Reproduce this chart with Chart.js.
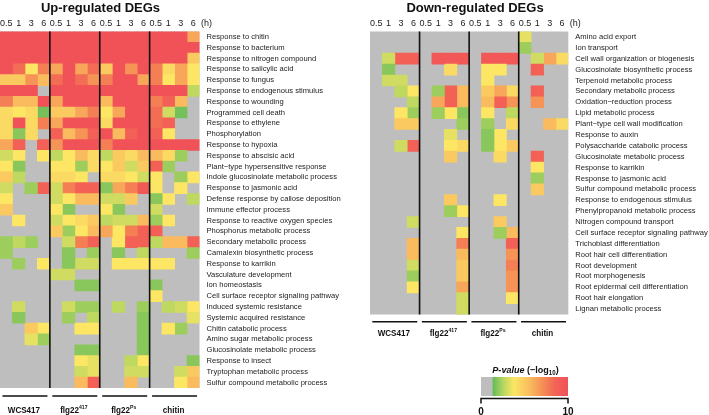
<!DOCTYPE html>
<html>
<head>
<meta charset="utf-8">
<script src="https://cdn.jsdelivr.net/npm/chart.js@4.4.0/dist/chart.umd.min.js"></script>
<style>
  html, body { margin: 0; padding: 0; background: #fff; }
  #up { position: absolute; left: 0; top: 0; width: 365px; height: 415px; }
  #down { position: absolute; left: 365px; top: 0; width: 344px; height: 415px; }
</style>
</head>
<body>
<div id="up"><canvas id="upChart"></canvas></div>
<div id="down"><canvas id="downChart"></canvas></div>
<script>
// time points and treatment groups (name, superscript)
var times = ['0.5', '1', '3', '6'];
var groups = [['WCS417', ''], ['flg22', '417'], ['flg22', 'Ps'], ['chitin', '']];

var upTerms = [
    'Response to chitin', 'Response to bacterium', 'Response to nitrogen compound',
    'Response to salicylic acid', 'Response to fungus', 'Response to endogenous stimulus',
    'Response to wounding', 'Programmed cell death', 'Response to ethylene', 'Phosphorylation',
    'Response to hypoxia', 'Response to abscisic acid', 'Plant\u2212type hypersensitive response',
    'Indole glucosinolate metabolic process', 'Response to jasmonic acid',
    'Defense response by callose deposition', 'Immune effector process',
    'Response to reactive oxygen species', 'Phosphorus metabolic process',
    'Secondary metabolic process', 'Camalexin biosynthetic process', 'Response to karrikin',
    'Vasculature development', 'Ion homeostasis', 'Cell surface receptor signaling pathway',
    'Induced systemic resistance', 'Systemic acquired resistance', 'Chitin catabolic process',
    'Amino sugar metabolic process', 'Glucosinolate metabolic process', 'Response to insect',
    'Tryptophan metabolic process', 'Sulfur compound metabolic process'
];

var downTerms = [
    'Amino acid export', 'Ion transport', 'Cell wall organization or biogenesis',
    'Glucosinolate biosynthetic process', 'Terpenoid metabolic process',
    'Secondary metabolic process', 'Oxidation\u2212reduction process', 'Lipid metabolic process',
    'Plant\u2212type cell wall modification', 'Response to auxin',
    'Polysaccharide catabolic process', 'Glucosinolate metabolic process', 'Response to karrikin',
    'Response to jasmonic acid', 'Sulfur compound metabolic process',
    'Response to endogenous stimulus', 'Phenylpropanoid metabolic process',
    'Nitrogen compound transport', 'Cell surface receptor signaling pathway',
    'Trichoblast differentiation', 'Root hair cell differentiation', 'Root development',
    'Root morphogenesis', 'Root epidermal cell differentiation', 'Root hair elongation',
    'Lignan metabolic process'
];

// -log10 P per term, columns 0.5 / 1 / 3 / 6 h (null = not significant)
var upWcs417 = [
    [10, 10, 10, 10], [10, 10, 10, 10], [10, 10, 10, 10], [10, 8.2, 3.8, 7.6],
    [5.0, 5.0, 6.9, 5.6], [10, 10, 10, null], [7.6, 5.6, 5.6, 10], [4.3, 3.8, 4.3, 1.6],
    [4.3, 10, 4.3, 7.6], [4.3, 1.9, 4.3, null], [6.3, 8.8, null, 8.8], [3.0, 3.8, null, 3.8],
    [3.8, 1.9, null, null], [5.0, 2.7, null, null], [3.0, null, 2.2, 8.8], [3.8, null, null, null],
    [5.0, null, null, null], [null, 3.8, null, null], [null, null, null, null], [2.2, 2.7, 2.2, null],
    [2.2, null, null, null], [null, 2.2, null, 3.8], [null, null, null, null], [null, null, null, null],
    [null, null, null, null], [null, 3.0, null, null], [null, 1.9, null, null], [null, null, 5.0, 3.8],
    [null, null, 3.4, 2.2], [null, null, null, null], [null, null, null, null], [null, null, null, null],
    [null, null, null, null]
];
var upFlg417 = [
    [10, 10, 10, 10], [10, 10, 10, 10], [10, 10, 10, 10], [6.3, 10, 6.3, 8.2],
    [8.2, 10, 8.2, 6.9], [10, 10, 10, 10], [6.3, 10, 10, 10], [5.0, 5.0, 6.3, 7.6],
    [6.3, 10, 10, 10], [8.8, 5.6, 6.9, 8.8], [6.9, 10, 10, 10], [2.7, 3.8, 5.6, 4.3],
    [3.8, 3.8, 2.2, 4.3], [4.3, 4.3, 3.8, null], [3.0, 7.6, 8.8, 8.8], [3.0, 3.8, 5.6, 5.6],
    [3.8, 1.9, null, null], [3.0, 3.8, 4.3, 5.0], [5.0, 2.2, 3.8, 5.6], [null, 3.0, 7.6, 8.8],
    [null, 1.9, null, 2.2], [null, 1.9, 3.0, 3.0], [3.0, 3.0, null, null], [null, null, 1.9, 1.9],
    [null, null, null, null], [null, 3.0, 2.2, 2.2], [null, 2.2, null, 2.7], [null, null, 3.8, 3.8],
    [null, null, null, null], [null, null, 1.9, 1.9], [null, null, 3.8, 3.4], [null, null, 3.0, 3.4],
    [null, null, 5.6, 8.8]
];
var upFlgPs = [
    [10, 10, 10, 10], [10, 10, 10, 10], [10, 10, 10, 10], [5.0, 10, 6.9, 10],
    [7.6, 10, 10, 6.3], [10, 10, 10, 10], [5.6, 10, 10, 10], [3.8, 6.3, 10, 10],
    [4.3, 10, 10, 10], [10, 5.6, 8.8, 10], [7.6, 10, 10, 10], [2.7, 5.0, 4.3, 5.6],
    [3.8, 5.0, 3.0, 5.0], [4.3, 4.3, 3.8, 3.0], [1.9, 6.3, 7.6, 9.4], [3.0, 3.0, 5.0, null],
    [3.8, 1.9, null, null], [2.7, 3.0, 3.0, 5.6], [6.3, 3.8, 7.6, 8.8], [null, 3.8, 8.8, 8.8],
    [null, 1.9, null, 2.7], [null, 3.8, 3.8, 3.8], [null, null, null, null], [null, null, null, null],
    [null, null, null, null], [null, 2.7, null, 2.2], [null, null, null, 1.9], [null, null, null, 1.9],
    [null, null, null, 1.9], [null, null, null, 1.9], [null, null, 2.7, 3.8], [null, null, 3.0, 3.0],
    [null, null, 5.6, null]
];
var upChitin = [
    [10, 10, 10, 6.3], [10, 10, 10, 10], [10, 10, 10, 5.0], [7.6, 4.3, 6.3, 3.8],
    [7.6, 3.8, 6.3, 3.8], [10, 10, 10, 2.7], [7.6, 8.8, 5.6, null], [8.2, 3.0, 1.6, null],
    [8.2, 8.8, null, null], [8.8, 3.8, null, null], [10, 10, 10, 10], [5.6, 4.3, 2.2, null],
    [8.8, 2.2, null, null], [3.8, null, 2.2, 3.8], [3.8, null, 3.8, null], [1.9, 3.8, null, 2.7],
    [3.0, null, null, null], [2.2, 3.8, null, null], [8.8, null, null, null], [2.7, 5.6, 5.6, 8.8],
    [null, null, null, 2.2], [3.8, 3.8, null, null], [null, null, null, null], [1.9, null, null, null],
    [3.8, null, null, null], [null, 2.7, 3.0, 3.8], [null, null, null, 3.4], [null, 3.8, 2.2, null],
    [null, null, null, null], [null, null, null, null], [null, null, null, 1.9], [null, null, 3.0, 5.0],
    [null, null, 3.8, 5.6]
];

var downWcs417 = [
    [null, null, null, null], [null, null, null, null], [null, 3.0, 8.8, 8.8], [null, 1.9, null, null],
    [null, 3.0, 3.0, null], [null, null, 2.7, 3.8], [null, null, null, 2.7], [null, null, 3.8, 2.2],
    [null, null, 5.0, 5.0], [null, null, null, null], [null, null, 3.0, 8.8], [null, null, null, null],
    [null, null, null, null], [null, null, null, null], [null, null, null, null], [null, null, null, null],
    [null, null, null, null], [null, null, null, 3.0], [null, null, null, null], [null, null, null, 5.6],
    [null, null, null, 5.6], [null, null, null, 3.0], [null, null, null, 2.2], [null, null, null, 3.8],
    [null, null, null, null], [null, null, null, null]
];
var downFlg417 = [
    [null, null, null, null], [null, null, null, null], [null, 9.5, 9.5, 9.5], [null, null, 4.3, null],
    [null, null, null, null], [null, 2.2, 8.8, 5.6], [null, 6.3, 8.8, 5.6], [null, 2.2, 3.8, 1.9],
    [null, null, null, 2.2], [null, null, 3.4, null], [null, null, 3.8, 4.3], [null, null, 5.0, null],
    [null, null, null, null], [null, null, null, null], [null, null, null, null], [null, null, 5.0, null],
    [null, null, 2.2, 3.8], [null, null, null, null], [null, null, null, 3.8], [null, null, null, 7.6],
    [null, null, null, 5.6], [null, null, null, 5.0], [null, null, null, 5.0], [null, null, null, 6.3],
    [null, null, null, 3.0], [null, null, null, 3.0]
];
var downFlgPs = [
    [null, null, null, null], [null, null, null, null], [null, 9.5, 9.5, 9.5], [null, 3.8, 3.8, null],
    [null, 3.8, null, null], [null, 5.0, 6.3, 4.3], [null, 5.6, 8.8, 6.9], [null, 3.8, null, 2.7],
    [null, 2.2, null, 4.3], [null, 1.9, 3.8, null], [null, 1.9, 3.8, 5.0], [null, null, 4.3, null],
    [null, null, null, null], [null, null, null, null], [null, null, null, null], [null, null, 3.8, null],
    [null, null, null, null], [null, null, 5.0, null], [null, null, 2.2, 5.6], [null, null, null, 8.8],
    [null, null, null, 6.9], [null, null, null, 7.6], [null, null, null, 6.9], [null, null, null, 6.9],
    [null, null, null, 3.8], [null, null, null, null]
];
var downChitin = [
    [3.4, null, null, null], [2.2, null, null, null], [null, 3.0, 6.3, 4.3], [null, 8.8, null, null],
    [null, null, null, null], [null, 8.8, null, null], [null, 6.9, null, null], [null, null, null, null],
    [null, null, 5.6, 4.3], [null, null, null, null], [null, null, null, null], [null, 8.8, null, null],
    [null, 3.8, null, null], [null, 2.2, null, null], [null, 5.0, null, null], [null, null, null, null],
    [null, null, null, null], [null, null, null, null], [null, null, null, null], [null, null, null, null],
    [null, null, null, null], [null, null, null, null], [null, null, null, null], [null, null, null, null],
    [null, null, null, null], [null, null, null, null]
];

// colour scale: value -> rgb
var colourStops = [
    [1.3, [95, 185, 90]], [2.6, [185, 215, 95]], [3.8, [252, 230, 100]], [5.5, [249, 190, 95]],
    [7.0, [245, 145, 85]], [8.5, [242, 100, 85]], [10, [240, 82, 88]]
];
var GREY = '#bebebe';
var FONT = "'Liberation Sans', Arial, sans-serif";

function rgb(c) {
    return 'rgb(' + Math.round(c[0]) + ',' + Math.round(c[1]) + ',' + Math.round(c[2]) + ')';
}

function colourFor(v) {
    if (v <= colourStops[0][0]) return rgb(colourStops[0][1]);
    for (var i = 1; i < colourStops.length; i++) {
        if (v <= colourStops[i][0]) {
            var a = colourStops[i - 1], b = colourStops[i];
            var f = (v - a[0]) / (b[0] - a[0]);
            return rgb([0, 1, 2].map(function (k) { return a[1][k] + (b[1][k] - a[1][k]) * f; }));
        }
    }
    return rgb(colourStops[colourStops.length - 1][1]);
}

// draw text pieces (with super/subscripts) centred at cx, squeezed horizontally
function drawPieces(ctx, pieces, cx, y, squeeze) {
    var total = 0;
    pieces.forEach(function (p) {
        ctx.font = p.font;
        p.w = ctx.measureText(p.text).width;
        total += p.w;
    });
    ctx.save();
    ctx.translate(cx, y);
    ctx.scale(squeeze, 1);
    var x = -total / 2;
    ctx.textAlign = 'left';
    ctx.textBaseline = 'alphabetic';
    pieces.forEach(function (p) {
        ctx.font = p.font;
        ctx.fillText(p.text, x, p.dy || 0);
        x += p.w;
    });
    ctx.restore();
}

function line(ctx, x1, y1, x2, y2) {
    ctx.beginPath();
    ctx.moveTo(x1, y1);
    ctx.lineTo(x2, y2);
    ctx.stroke();
}

var decorPlugin = {
    id: 'decor',
    beforeDatasetsDraw: function (chart) {
        var area = chart.chartArea, ctx = chart.ctx;
        ctx.save();
        ctx.fillStyle = GREY;
        ctx.fillRect(area.left, area.top, area.width, area.height);
        ctx.restore();
    },
    afterDraw: function (chart, args, opts) {
        var ctx = chart.ctx, area = chart.chartArea, x = chart.scales.x;
        ctx.save();
        ctx.strokeStyle = '#111';
        ctx.fillStyle = '#111';
        ctx.lineWidth = 1.6;

        // separators between treatments
        [4, 8, 12].forEach(function (v) {
            var px = x.getPixelForValue(v);
            line(ctx, px, area.top, px, area.bottom);
        });

        // title
        ctx.font = 'bold 13px ' + FONT;
        ctx.textAlign = 'center';
        ctx.textBaseline = 'alphabetic';
        ctx.fillText(opts.title, opts.titleX, 11.5);

        // hours unit
        ctx.font = '9px ' + FONT;
        ctx.textAlign = 'left';
        ctx.textBaseline = 'middle';
        ctx.fillStyle = '#222';
        ctx.fillText('(h)', area.right + 1.5, 23.5);

        // brackets and treatment names
        ctx.fillStyle = '#111';
        groups.forEach(function (g, i) {
            var mid = (x.getPixelForValue(i * 4) + x.getPixelForValue(i * 4 + 4)) / 2;
            line(ctx, mid - 22.5, opts.bracketY, mid + 22.5, opts.bracketY);
            var pieces = [{text: g[0], font: 'bold 9.5px ' + FONT}];
            if (g[1]) pieces.push({text: g[1], font: 'bold 6px ' + FONT, dy: -4});
            drawPieces(ctx, pieces, mid - 1, opts.labelY, 0.85);
        });

        if (opts.colourBar) drawColourBar(ctx, opts.colourBar);
        ctx.restore();
    }
};

function drawColourBar(ctx, bar) {
    var px = function (v) { return bar.x0 + (bar.x1 - bar.x0) * v / 10; };
    var start = px(colourStops[0][0]);
    ctx.fillStyle = GREY;
    ctx.fillRect(bar.x0, bar.top, start - bar.x0, bar.height);
    var grad = ctx.createLinearGradient(start, 0, bar.x1, 0);
    colourStops.forEach(function (s) {
        grad.addColorStop((s[0] - colourStops[0][0]) / (10 - colourStops[0][0]), rgb(s[1]));
    });
    ctx.fillStyle = grad;
    ctx.fillRect(start, bar.top, bar.x1 - start, bar.height);

    // axis under the bar
    var axisY = bar.top + bar.height + 2.5;
    ctx.lineWidth = 1.5;
    ctx.strokeStyle = '#111';
    ctx.beginPath();
    ctx.moveTo(bar.x0, axisY + 5);
    ctx.lineTo(bar.x0, axisY);
    ctx.lineTo(bar.x1, axisY);
    ctx.lineTo(bar.x1, axisY + 5);
    ctx.stroke();

    ctx.fillStyle = '#111';
    drawPieces(ctx, [{text: '0', font: 'bold 10px ' + FONT}], bar.x0, axisY + 16, 1);
    drawPieces(ctx, [{text: '10', font: 'bold 10px ' + FONT}], bar.x1, axisY + 16, 1);

    drawPieces(ctx, [
        {text: 'P-value', font: 'italic bold 9.5px ' + FONT},
        {text: ' (\u2212log', font: 'bold 9.5px ' + FONT},
        {text: '10', font: 'bold 6.5px ' + FONT, dy: 2},
        {text: ')', font: 'bold 9.5px ' + FONT}
    ], (bar.x0 + bar.x1) / 2 + 1, bar.top - 4.5, 0.95);
}

function heatmapChart(canvasId, terms, groupValues, layout, decor) {
    var datasets = [];
    groupValues.forEach(function (rows, g) {
        times.forEach(function (time, t) {
            var col = g * 4 + t;
            datasets.push({
                label: groups[g].join('') + ' ' + time + ' h',
                data: rows.map(function (row) { return row[t] === null ? null : [col, col + 1]; }),
                backgroundColor: rows.map(function (row) {
                    return row[t] === null ? 'rgba(0,0,0,0)' : colourFor(row[t]);
                }),
                borderWidth: 0,
                inflateAmount: 0.4,
                barPercentage: 1,
                categoryPercentage: 1,
                grouped: false
            });
        });
    });

    return new Chart(document.getElementById(canvasId), {
        type: 'bar',
        data: {labels: terms, datasets: datasets},
        options: {
            indexAxis: 'y',
            responsive: true,
            maintainAspectRatio: false,
            animation: false,
            layout: {padding: layout.padding},
            scales: {
                x: {
                    type: 'linear',
                    position: 'top',
                    min: 0,
                    max: 16,
                    grid: {display: false, drawTicks: false},
                    border: {display: false},
                    afterBuildTicks: function (scale) {
                        var ticks = [];
                        for (var c = 0; c < 16; c++) ticks.push({value: c + 0.5});
                        scale.ticks = ticks;
                    },
                    afterFit: function (scale) {
                        scale.height = 14;
                        scale.paddingLeft = 0;
                        scale.paddingRight = 0;
                    },
                    ticks: {
                        autoSkip: false,
                        maxRotation: 0,
                        padding: 3,
                        color: '#222',
                        font: {family: FONT, size: 9},
                        callback: function (value) {
                            return times[Math.floor(value) % 4];
                        }
                    }
                },
                y: {
                    position: 'right',
                    grid: {display: false, drawTicks: false},
                    border: {display: false},
                    afterFit: function (scale) {
                        scale.width = layout.axisWidth;
                    },
                    ticks: {
                        autoSkip: false,
                        padding: 7,
                        color: '#222',
                        font: {family: FONT, size: 7.6}
                    }
                }
            },
            plugins: {
                legend: {display: false},
                tooltip: {enabled: false},
                decor: decor
            }
        },
        plugins: [decorPlugin]
    });
}

heatmapChart('upChart', upTerms, [upWcs417, upFlg417, upFlgPs, upChitin],
    {padding: {top: 17.5, left: 0, right: 0, bottom: 27}, axisWidth: 165.5},
    {title: 'Up-regulated DEGs', titleX: 100.5, bracketY: 396, labelY: 413});

heatmapChart('downChart', downTerms, [downWcs417, downFlg417, downFlgPs, downChitin],
    {padding: {top: 17.5, left: 5, right: 0, bottom: 100.5}, axisWidth: 140.7},
    {title: 'Down-regulated DEGs', titleX: 110, bracketY: 321.7, labelY: 336,
        colourBar: {x0: 116, x1: 203, top: 377, height: 19}});
</script>
</body>
</html>
